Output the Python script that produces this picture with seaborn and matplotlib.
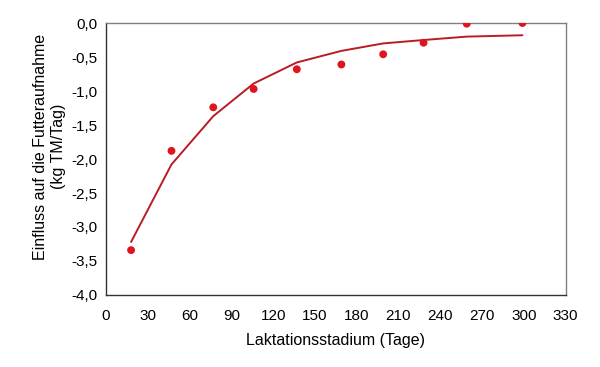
import matplotlib
matplotlib.use('Agg')
import matplotlib.pyplot as plt
import seaborn as sb
import pandas
from matplotlib.ticker import FuncFormatter, MultipleLocator

# Laktationsstadium (Tage), observed and fitted effect
days = [18, 47, 77, 106, 137, 169, 199, 228, 259, 299]
observed = [-3.34, -1.88, -1.24, -0.97, -0.68, -0.61, -0.46, -0.29, -0.01, 0.0]
fitted = [-3.22, -2.08, -1.37, -0.89, -0.58, -0.41, -0.30, -0.25, -0.20, -0.18]

df = pandas.DataFrame({'day': days, 'observed': observed, 'fitted': fitted})

sb.set_style('white')
plt.rcParams['font.family'] = ['Liberation Sans', 'DejaVu Sans']
plt.rcParams['text.color'] = 'black'
plt.rcParams['axes.labelcolor'] = 'black'
plt.rcParams['xtick.color'] = 'black'
plt.rcParams['ytick.color'] = 'black'

fig = plt.figure(figsize=(6, 3.67), dpi=100)
ax = fig.add_axes([0.1767, 0.1962, 0.766, 0.7411])

sb.lineplot(data=df, x='day', y='fitted', color='#b81c24', linewidth=1.4, ax=ax)
sb.scatterplot(data=df, x='day', y='observed', color='#e0141e', s=32, edgecolor='none', ax=ax, zorder=3)

ax.set_xlim(0, 330)
ax.set_ylim(-4.0, 0.0)
ax.xaxis.set_major_locator(MultipleLocator(30))
ax.yaxis.set_major_locator(MultipleLocator(0.5))
ax.yaxis.set_major_formatter(FuncFormatter(lambda v, p: f'{v:.1f}'.replace('.', ',')))
ax.tick_params(axis='both', direction='out', width=0.8, labelsize=11, color='#333333')
ax.tick_params(axis='y', length=4, pad=2)
ax.tick_params(axis='x', length=3, pad=7)

for side in ['top', 'right']:
    ax.spines[side].set_color('#808080')
for side in ['left', 'bottom']:
    ax.spines[side].set_color('#333333')
for s in ax.spines.values():
    s.set_linewidth(1.0)

ax.set_xlabel('Laktationsstadium (Tage)', fontsize=11.5, labelpad=7)
ax.set_ylabel('Einfluss auf die Futteraufnahme\n(kg TM/Tag)', fontsize=11.5)
ax.yaxis.set_label_coords(-0.088, 0.545)

plt.savefig('out.png', dpi=100)
